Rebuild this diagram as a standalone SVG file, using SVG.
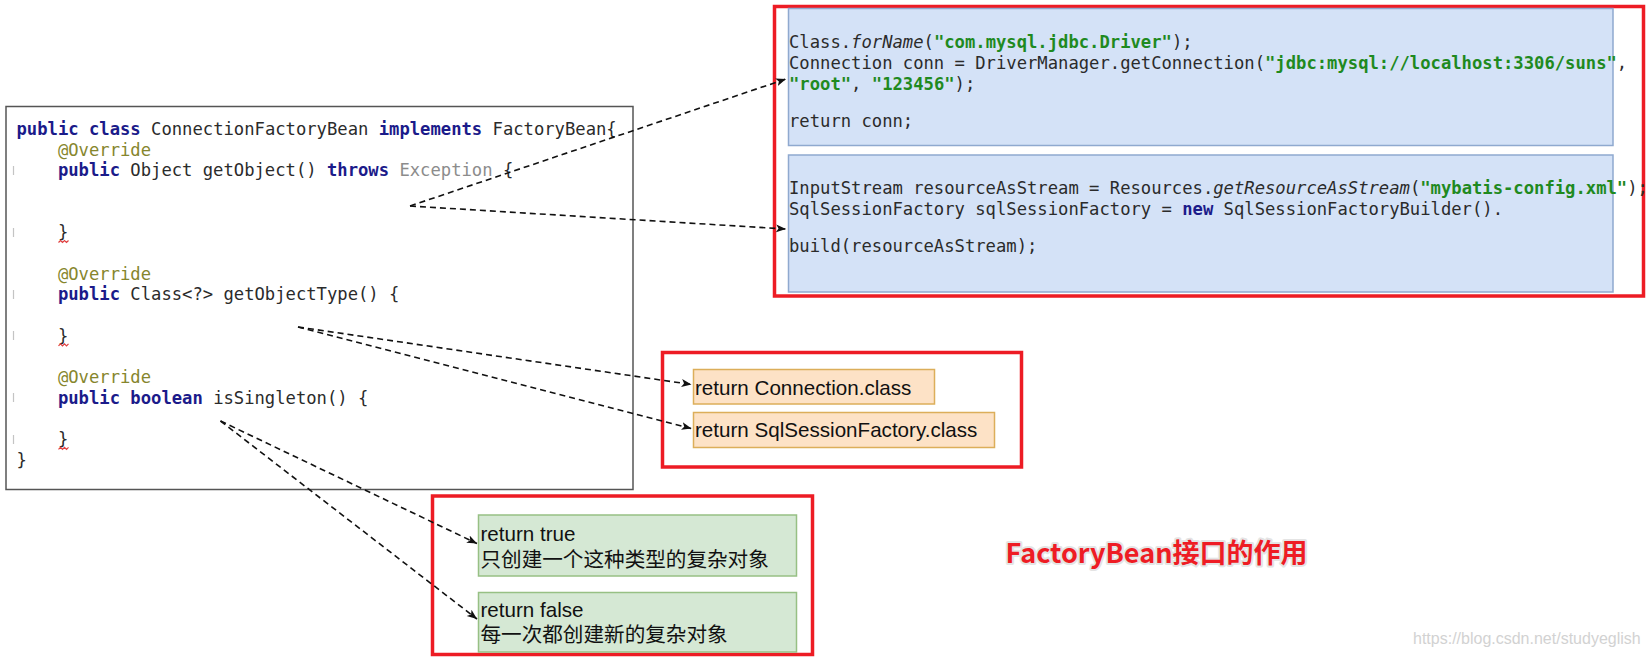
<svg xmlns="http://www.w3.org/2000/svg" width="1647" height="657" viewBox="0 0 1647 657">
<defs>
<style>
.code{font-family:"DejaVu Sans Mono","Liberation Mono",monospace;font-size:17.2px;fill:#2b2b2b}
.kw{fill:#1b1b8a;font-weight:bold}
.ann{fill:#86862d}
.gray{fill:#8c8c8c}
.str{fill:#1f8a1f;font-weight:bold}
.it{font-style:italic}
.redframe{fill:none;stroke:#ed1c24;stroke-width:3.5}
.blue{fill:#d4e2f7;stroke:#8fa9cf;stroke-width:1.5}
.orange{fill:#fde2c6;stroke:#dcae5a;stroke-width:1.5}
.green{fill:#d5e8d4;stroke:#97c084;stroke-width:1.5}
.lbl{font-family:"Liberation Sans","Noto Sans CJK SC",sans-serif;font-size:20.6px;fill:#111}
.conn{fill:none;stroke:#111;stroke-width:1.6;stroke-dasharray:6 4}
.fold{stroke:#c4c4c4;stroke-width:1.2}
.squig{fill:none;stroke:#e04040;stroke-width:1.2}
</style>
<marker id="arr" markerUnits="userSpaceOnUse" markerWidth="11" markerHeight="9" refX="10" refY="4" orient="auto">
<path d="M0,0 L10,4 L0,8 L2.5,4 z" fill="#111"/>
</marker>
</defs>
<rect width="1647" height="657" fill="#ffffff"/>

<g id="code-box">
<rect x="6" y="106.5" width="627" height="383" fill="#ffffff" stroke="#555" stroke-width="1.5"/>
<g class="code">
<text x="16.5" y="135"><tspan class="kw">public</tspan> <tspan class="kw">class</tspan> ConnectionFactoryBean <tspan class="kw">implements</tspan> FactoryBean{</text>
<text x="57.9" y="155.7" class="ann">@Override</text>
<text x="57.9" y="176.4"><tspan class="kw">public</tspan> Object getObject() <tspan class="kw">throws</tspan> <tspan class="gray">Exception</tspan> {</text>
<text x="57.9" y="238.4">}</text>
<text x="57.9" y="279.8" class="ann">@Override</text>
<text x="57.9" y="300.4"><tspan class="kw">public</tspan> Class&lt;?&gt; getObjectType() {</text>
<text x="57.9" y="341.8">}</text>
<text x="57.9" y="383.2" class="ann">@Override</text>
<text x="57.9" y="403.8"><tspan class="kw">public</tspan> <tspan class="kw">boolean</tspan> isSingleton() {</text>
<text x="57.9" y="445.2">}</text>
<text x="16.5" y="465.9">}</text>
</g>
<g class="fold">
<line x1="13.5" y1="166" x2="13.5" y2="175"/>
<line x1="13.5" y1="228" x2="13.5" y2="237"/>
<line x1="13.5" y1="290" x2="13.5" y2="299"/>
<line x1="13.5" y1="331" x2="13.5" y2="340"/>
<line x1="13.5" y1="393" x2="13.5" y2="402"/>
<line x1="13.5" y1="435" x2="13.5" y2="444"/>
</g>
<g class="squig">
<path d="M58.5,242.5 l2,-2 l2,2 l2,-2 l2,2 l2,-2"/>
<path d="M58.5,345.9 l2,-2 l2,2 l2,-2 l2,2 l2,-2"/>
<path d="M58.5,449.3 l2,-2 l2,2 l2,-2 l2,2 l2,-2"/>
</g>
</g>

<g id="frame-object">
<rect class="redframe" x="774.5" y="6.5" width="869" height="289.5"/>
</g>
<g id="node-connection">
<rect class="blue" x="788.5" y="8.5" width="824.5" height="137"/>
<g class="code">
<text x="789" y="48">Class.<tspan class="it">forName</tspan>(<tspan class="str">"com.mysql.jdbc.Driver"</tspan>);</text>
<text x="789" y="69">Connection conn = DriverManager.getConnection(<tspan class="str">"jdbc:mysql://localhost:3306/suns"</tspan>,</text>
<text x="789" y="90"><tspan class="str">"root"</tspan>, <tspan class="str">"123456"</tspan>);</text>
<text x="789" y="127">return conn;</text>
</g>
</g>
<g id="node-sqlsession">
<rect class="blue" x="788.5" y="155" width="824.5" height="137"/>
<g class="code">
<text x="789" y="194">InputStream resourceAsStream = Resources.<tspan class="it">getResourceAsStream</tspan>(<tspan class="str">"mybatis-config.xml"</tspan>);</text>
<text x="789" y="214.5">SqlSessionFactory sqlSessionFactory = <tspan class="kw">new</tspan> SqlSessionFactoryBuilder().</text>
<text x="789" y="252">build(resourceAsStream);</text>
</g>
</g>

<g id="frame-type">
<rect class="redframe" x="662.5" y="352.5" width="359" height="114.5"/>
</g>
<g id="node-type-conn">
<rect class="orange" x="693.5" y="369.5" width="241" height="34.5"/>
<text class="lbl" x="695" y="394.5">return Connection.class</text>
</g>
<g id="node-type-sql">
<rect class="orange" x="693.5" y="412.5" width="301" height="35"/>
<text class="lbl" x="695" y="437.2">return SqlSessionFactory.class</text>
</g>

<g id="frame-singleton">
<rect class="redframe" x="432.5" y="496" width="380" height="158.5"/>
</g>
<g id="node-true">
<rect class="green" x="478.5" y="515" width="318" height="61"/>
<text class="lbl" x="480.5" y="540.5">return true</text>
<text class="lbl" x="480.5" y="567">只创建一个这种类型的复杂对象</text>
</g>
<g id="node-false">
<rect class="green" x="478.5" y="592.5" width="318" height="59.5"/>
<text class="lbl" x="480.5" y="617">return false</text>
<text class="lbl" x="480.5" y="641.5">每一次都创建新的复杂对象</text>
</g>

<g id="title">
<text x="1005.5" y="563" textLength="302" lengthAdjust="spacingAndGlyphs" font-family="'Noto Sans CJK SC','Noto Sans',sans-serif" font-weight="bold" font-size="27" fill="#ee1c24" stroke="#e4e4e4" stroke-width="4" paint-order="stroke" stroke-linejoin="round">FactoryBean接口的作用</text>
</g>
<g id="watermark">
<text x="1413" y="644" font-family="'Liberation Sans',sans-serif" font-size="16" fill="#d2d2d2">https://blog.csdn.net/studyeglish</text>
</g>

<g id="connectors">
<path class="conn" d="M410,206 L786,79" marker-end="url(#arr)"/>
<path class="conn" d="M410,206 L786,229" marker-end="url(#arr)"/>
<path class="conn" d="M298,327 L691.5,384.5" marker-end="url(#arr)"/>
<path class="conn" d="M298,327 L691.5,428.5" marker-end="url(#arr)"/>
<path class="conn" d="M220.5,421 L477,543.5" marker-end="url(#arr)"/>
<path class="conn" d="M220.5,421 L477,619" marker-end="url(#arr)"/>
</g>
</svg>
